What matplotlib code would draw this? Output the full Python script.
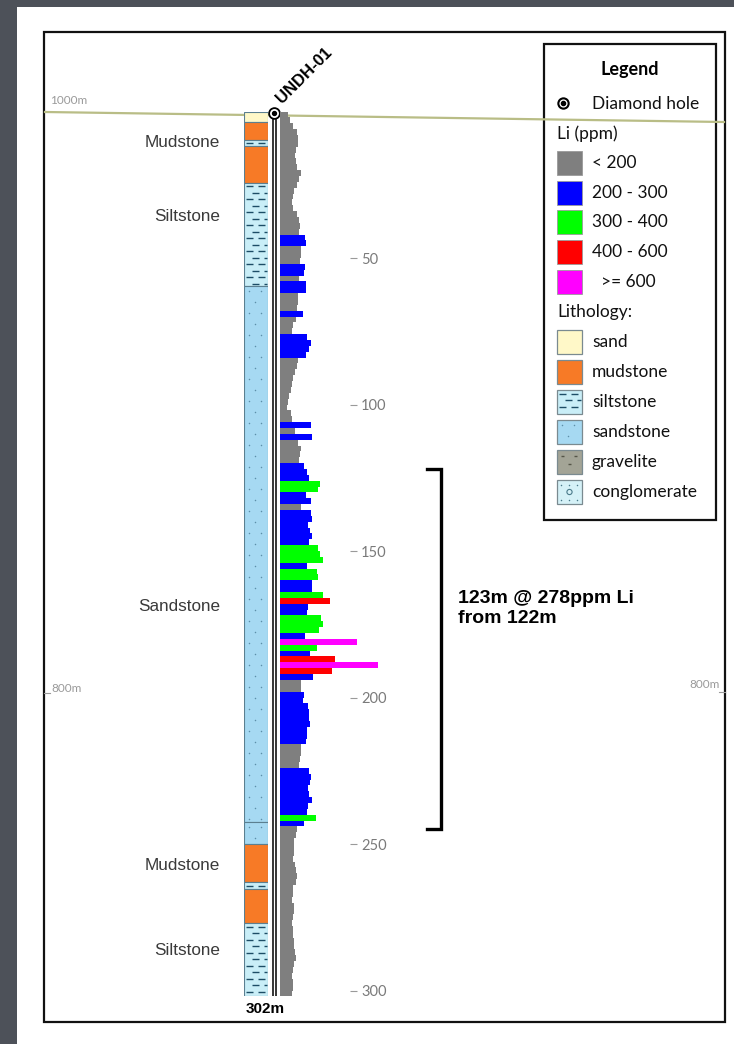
import numpy as np
import matplotlib
matplotlib.use('Agg')
import matplotlib.pyplot as plt
import matplotlib.transforms as mtransforms
from matplotlib.patches import Rectangle

W, H = 734, 1044

# Li assays, 2 m composites down hole (ppm)
li_ppm = [70, 90, 120, 150, 165, 160, 145, 135, 140, 155,
          190, 175, 150, 130, 115, 110, 120, 150, 170, 180,
          175, 225, 230, 190, 185, 180, 225, 220, 175, 230,
          235, 165, 160, 150, 210, 140, 115, 105, 240, 280,
          260, 230, 160, 150, 135, 120, 110, 95, 80, 70,
          65, 100, 110, 275, 135, 290, 160, 190, 180, 175,
          215, 240, 265, 360, 345, 230, 280, 185, 275, 290,
          250, 270, 285, 260, 340, 360, 385, 245, 330, 340,
          285, 290, 385, 450, 250, 245, 370, 385, 355, 225,
          690, 335, 270, 495, 880, 470, 295, 185, 190, 215,
          210, 250, 265, 260, 270, 245, 240, 235, 190, 185,
          180, 175, 265, 275, 270, 255, 260, 285, 250, 245,
          320, 215, 150, 140, 130, 125, 130, 120, 135, 140,
          150, 140, 120, 115, 110, 125, 130, 120, 110, 115,
          120, 130, 125, 135, 140, 125, 115, 110, 120, 115,
          110]
sample_len = 2
sample_top = np.arange(0, 302, sample_len)

li_classes = ['< 200', '200 - 300', '300 - 400', '400 - 600', '  >= 600']
li_breaks = [200, 300, 400, 600]
li_colors = ['#7f7f7f', '#0000ff', '#00ff00', '#ff0000', '#ff00ff']

litho_names = ['sand', 'mudstone', 'siltstone', 'sandstone', 'gravelite', 'conglomerate']
litho_colors = {'sand': '#fff8c8', 'mudstone': '#f77a26', 'siltstone': '#c9eef7',
                'sandstone': '#a6d9f2', 'gravelite': '#a3a496', 'conglomerate': '#d5f1f7'}

unit_rock = ['sand', 'mudstone', 'siltstone', 'mudstone', 'siltstone', 'sandstone',
             'sandstone', 'mudstone', 'siltstone', 'mudstone', 'siltstone']
unit_top = [0, 3.5, 9.7, 11.8, 24.4, 59.5, 242.5, 250, 263, 265.5, 277]
unit_bottom = [3.5, 9.7, 11.8, 24.4, 59.5, 242.5, 250, 263, 265.5, 277, 302]

unit_labels = ['Mudstone', 'Siltstone', 'Sandstone', 'Mudstone', 'Siltstone']
unit_label_depth = [10.7, 35.7, 168.8, 257.5, 286.5]

depth_ticks = [50, 100, 150, 200, 250, 300]
hole_id = 'UNDH-01'
hole_depth = 302
intercept = (122, 245)
intercept_text = '123m @ 278ppm Li\nfrom 122m'

# pixel layout of the depth track
Y0 = 111.5
PX_PER_M = 2.93
Y1 = Y0 + PX_PER_M * hole_depth


def px_box(x0, y0, x1, y1):
    return [x0 / W, 1 - y1 / H, (x1 - x0) / W, (y1 - y0) / H]


def add_texture(ax, rock, x0, x1, y0, y1, ux, uy):
    '''Draw the rock symbol inside a box; ux, uy are data units per pixel.'''
    if rock == 'siltstone':
        ys = np.arange(y0 + 3.5 * uy, y1 - 1.5 * uy, 6.5 * uy)
        for i, yy in enumerate(ys):
            start = x0 + (2 + (i % 2) * 6) * ux
            xs = np.arange(start, x1 - 2 * ux, 12 * ux)
            ax.hlines([yy] * len(xs), xs, np.minimum(xs + 7 * ux, x1 - 1.5 * ux),
                      color='#1d4d66', lw=1.0)
    elif rock == 'sandstone':
        ys = np.arange(y0 + 5 * uy, y1 - 2 * uy, 11 * uy)
        for i, yy in enumerate(ys):
            xs = np.arange(x0 + (5 + (i % 2) * 6) * ux, x1 - 2 * ux, 12 * ux)
            ax.scatter(xs, [yy] * len(xs), s=1.2, color='#5d8fa9', lw=0)
    elif rock == 'gravelite':
        ys = np.arange(y0 + 6 * uy, y1 - 2 * uy, 8 * uy)
        for i, yy in enumerate(ys):
            xs = np.arange(x0 + (4 + (i % 2) * 7) * ux, x1 - 2 * ux, 13 * ux)
            ax.hlines([yy] * len(xs), xs, xs + 3 * ux, color='#555548', lw=1.0)
    elif rock == 'conglomerate':
        ax.scatter([(x0 + x1) / 2], [(y0 + y1) / 2], s=14, facecolor='none',
                   edgecolor='#4a7a8a', lw=0.8)
        for yy in (y0 + 5 * uy, y1 - 4 * uy):
            xs = np.arange(x0 + 4 * ux, x1 - 2 * ux, 8 * ux)
            ax.scatter(xs, [yy] * len(xs), s=1.2, color='#4a7a8a', lw=0)


fig = plt.figure(figsize=(W / 100, H / 100), dpi=100, facecolor='#4d5159')

bg = fig.add_axes([0, 0, 1, 1])
bg.set_xlim(0, W)
bg.set_ylim(H, 0)
bg.axis('off')

bg.add_patch(Rectangle((17, 7), W - 17, H - 7, facecolor='white', edgecolor='none'))
bg.add_patch(Rectangle((44, 32), 681, 990, facecolor='none', edgecolor='#111111', lw=1.6))

# topography / elevation reference
bg.plot([45, 724], [112, 122], color='#b9bd86', lw=1.6, zorder=3)
bg.text(50, 100, '1000m', fontsize=8.5, color='#9a9a9a', family='Lato', va='center')
bg.text(51, 688, '800m', fontsize=8.5, color='#9a9a9a', family='Lato', va='center')
bg.text(720, 684, '800m', fontsize=8.5, color='#9a9a9a', family='Lato', va='center', ha='right')
bg.plot([44, 50], [693, 693], color='#9a9a9a', lw=0.8)
bg.plot([719, 725], [692, 692], color='#9a9a9a', lw=0.8)

# drill hole trace
bg.vlines([272.5, 275.8], 114, Y1, color='black', lw=1.1, zorder=4)
bg.scatter([274.2], [113], s=60, facecolor='white', edgecolor='black', lw=1.3, zorder=6)
bg.scatter([274.2], [113], s=8, color='black', zorder=7)
bg.text(284, 106, hole_id, rotation=45, fontsize=12, fontweight='bold',
        family='Liberation Sans', ha='left', va='bottom', rotation_mode='anchor')
bg.text(265, 1009, '%dm' % hole_depth, fontsize=11, fontweight='bold',
        family='Liberation Sans', ha='center', va='center')

# lithology column
ax_lith = fig.add_axes(px_box(244, Y0, 268, Y1))
ax_lith.set_xlim(0, 1)
ax_lith.set_ylim(hole_depth, 0)
ax_lith.axis('off')
ux, uy = 1 / 24, 1 / PX_PER_M
for rock, top, bot in zip(unit_rock, unit_top, unit_bottom):
    ax_lith.add_patch(Rectangle((0, top), 1, bot - top, facecolor=litho_colors[rock],
                                edgecolor='#5b7f90', lw=0.8))
    add_texture(ax_lith, rock, 0, 1, top, bot, ux, uy)
for name, d in zip(unit_labels, unit_label_depth):
    ax_lith.text(-1.0, d, name, ha='right', va='center', fontsize=12.3,
                 color='#3a3a3a', family='Liberation Sans', clip_on=False)

# Li bars
ax_li = fig.add_axes(px_box(280, Y0, 390, Y1))
ax_li.set_xlim(0, 990)
ax_li.set_ylim(hole_depth, 0)
ax_li.axis('off')
bar_colors = [li_colors[k] for k in np.digitize(li_ppm, li_breaks)]
ax_li.barh(sample_top, li_ppm, height=sample_len, align='edge', color=bar_colors, lw=0)

# depth scale
ax_d = fig.add_axes(px_box(349, Y0, 350, Y1))
ax_d.set_ylim(hole_depth, 0)
ax_d.set_xticks([])
for s in ax_d.spines.values():
    s.set_visible(False)
ax_d.yaxis.tick_right()
ax_d.set_yticks(depth_ticks)
ax_d.tick_params(axis='y', length=5, width=0.8, color='#9a9a9a', labelcolor='#7a7a7a',
                 labelsize=10.5, pad=3)
for lab in ax_d.get_yticklabels():
    lab.set_family('Lato')
ax_d.patch.set_alpha(0)

# intercept bracket
tr = mtransforms.blended_transform_factory(bg.transData, ax_li.transData)
bg.plot([427, 441, 441, 427], [intercept[0], intercept[0], intercept[1], intercept[1]],
        transform=tr, color='black', lw=2.4, solid_joinstyle='miter')
bg.text(458, 169.5, intercept_text, transform=tr,
        fontsize=14, fontweight='bold', family='Liberation Sans', va='center',
        linespacing=1.25)

# legend
bg.add_patch(Rectangle((544, 44), 172, 476, facecolor='white', edgecolor='#111111', lw=1.6))
bg.text(630, 70, 'Legend', ha='center', va='center', fontsize=13, fontweight='bold', family='Lato')
bg.scatter([563], [103], s=55, facecolor='white', edgecolor='black', lw=1.5)
bg.scatter([563], [103], s=9, color='black')
lfont = dict(fontsize=12.5, family='Lato', va='center', color='#111111')
bg.text(592, 104, 'Diamond hole', **lfont)
bg.text(557, 134, 'Li (ppm)', **lfont)
for i, (lab, col) in enumerate(zip(li_classes, li_colors)):
    yc = 163 + i * 29.7
    bg.add_patch(Rectangle((557, yc - 12), 25, 24, facecolor=col, edgecolor='#9a9a9a', lw=0.6))
    bg.text(592, yc, lab, **lfont)
bg.text(557, 312, 'Lithology:', **lfont)
for i, rock in enumerate(litho_names):
    yc = 342 + i * 30
    bg.add_patch(Rectangle((557, yc - 12), 25, 24, facecolor=litho_colors[rock],
                           edgecolor='#7a8a90', lw=0.9))
    add_texture(bg, rock, 557, 582, yc - 12, yc + 12, 1, 1)
    bg.text(592, yc, rock, **lfont)

fig.savefig('out.png', dpi=100, facecolor=fig.get_facecolor())
